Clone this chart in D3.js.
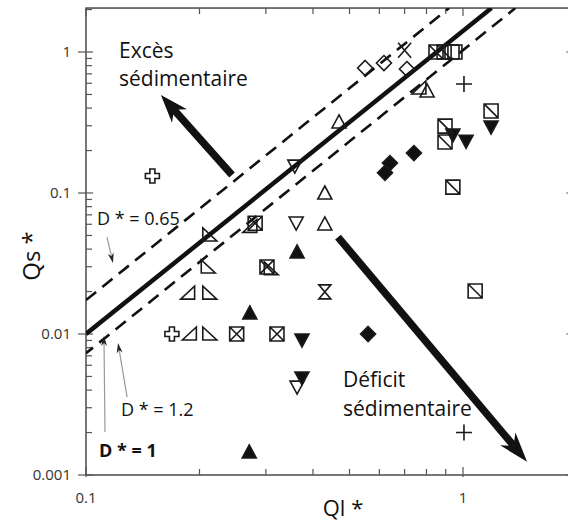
<!DOCTYPE html>
<html><head><meta charset="utf-8">
<script src="https://cdn.jsdelivr.net/npm/d3@7"></script>
<style>body{margin:0;background:#fff} text{font-family:"Open Sans",sans-serif}</style>
</head><body><svg id="c" width="568" height="526"></svg>
<script>
// ---- data ----
const xExtent = [0.1, 1.95];
const yExtent = [0.001, 2.05];
const xMajor = [0.1, 1];
const xLabels = ["0.1", "1"];
const yMajor = [0.001, 0.01, 0.1, 1];
const yLabels = ["0.001", "0.01", "0.1", "1"];
const xMinor = [0.2,0.3,0.4,0.5,0.6,0.7,0.8,0.9];
const yMinor = [0.002,0.003,0.004,0.005,0.006,0.007,0.008,0.009,0.02,0.03,0.04,0.05,0.06,0.07,0.08,0.09,0.2,0.3,0.4,0.5,0.6,0.7,0.8,0.9,2];

// D* reference lines (Ql, Qs)
const lineD1   = [[0.1, 0.01],   [1.19, 2.05]];
const lineD065 = [[0.1, 0.0174], [0.919, 2.05]];
const lineD12  = [[0.1, 0.0073], [1.377, 2.05]];

// observations by marker type (Ql*, Qs*)
const openDiamond   = [[0.55,0.77],[0.617,0.835],[0.71,0.757]];
const xMark         = [[0.70,1.03]];
const plusMark      = [[1.006,0.593],[1.006,0.0020]];
const hollowCross   = [[0.150,0.132],[0.169,0.010]];
const openUp        = [[0.803,0.529],[0.469,0.319],[0.430,0.100],[0.430,0.0603]];
const openDown      = [[0.358,0.155],[0.361,0.0612],[0.363,0.0042]];
const filledUp      = [[0.363,0.0382],[0.272,0.0141],[0.271,0.00146]];
const filledDown    = [[1.187,0.294],[0.94,0.258],[1.019,0.233],[0.374,0.00906],[0.374,0.00488]];
const filledDiamond = [[0.741,0.192],[0.640,0.163],[0.621,0.139],[0.560,0.010]];
const squareDiag    = [[0.848,1.0],[0.891,1.0],[1.187,0.382],[0.896,0.298],[0.896,0.230],[0.94,0.110],[1.077,0.0202]];
const squarePlain   = [[0.935,1.0],[0.952,1.0]];
const squareX       = [[0.281,0.061],[0.302,0.0299],[0.251,0.010],[0.321,0.010]];
const rightTriBR    = [[0.764,0.556],[0.186,0.0195],[0.188,0.010],[0.272,0.058]];
const rightTriBL    = [[0.213,0.0504],[0.211,0.0299],[0.213,0.0195],[0.213,0.010],[0.31,0.029]];
const hourglass     = [[0.430,0.0199]];

// annotation arrows (Ql, Qs): [tail, tip]
const arrowUp    = [[0.244,0.134],[0.158,0.495]];
const arrowDown  = [[0.466,0.0487],[1.479,0.00124]];
const leaderD065 = [[0.1137,0.0487],[0.1179,0.0319]];
const leaderD12  = [[0.1285,0.00357],[0.1216,0.00863]];
const leaderD1   = [[0.1123,0.00202],[0.1116,0.00968]];

// ---- scales ----
const svg = d3.select("#c");
svg.append("rect").attr("width",568).attr("height",526).attr("fill","#fff");
const x = d3.scaleLog().domain([0.1, 1]).range([86, 463]);
const y = d3.scaleLog().domain([0.001, 1]).range([475, 52]);
const X0 = x(xExtent[0]), X1 = x(xExtent[1]), Y0 = y(yExtent[0]), Y1 = y(yExtent[1]);

svg.append("clipPath").attr("id","clip").append("rect")
  .attr("x",X0).attr("y",Y1).attr("width",X1-X0).attr("height",Y0-Y1);

const axisCol = "#555";
svg.append("rect").attr("x",X0).attr("y",Y1).attr("width",X1-X0).attr("height",Y0-Y1)
  .attr("fill","none").attr("stroke",axisCol).attr("stroke-width",1.6);

const tk = svg.append("g").attr("stroke",axisCol).attr("stroke-width",1.2);
xMinor.forEach(v=>{
  tk.append("line").attr("x1",x(v)).attr("x2",x(v)).attr("y1",Y0).attr("y2",Y0-6);
  tk.append("line").attr("x1",x(v)).attr("x2",x(v)).attr("y1",Y1).attr("y2",Y1+6);
});
xMajor.forEach(v=>{
  tk.append("line").attr("x1",x(v)).attr("x2",x(v)).attr("y1",Y0+2).attr("y2",Y0-8);
  tk.append("line").attr("x1",x(v)).attr("x2",x(v)).attr("y1",Y1).attr("y2",Y1+8);
});
yMinor.forEach(v=>{
  if (y(v) < Y1) return;
  tk.append("line").attr("x1",X0).attr("x2",X0+6).attr("y1",y(v)).attr("y2",y(v));
});
yMajor.forEach(v=>{
  tk.append("line").attr("x1",X0-8).attr("x2",X0+7).attr("y1",y(v)).attr("y2",y(v));
  tk.append("line").attr("x1",X1-6).attr("x2",X1).attr("y1",y(v)).attr("y2",y(v));
});

svg.append("g").selectAll("text").data(xMajor).join("text")
  .attr("x",d=>x(d)).attr("y",503).attr("text-anchor","middle")
  .attr("font-size",15).attr("fill","#333").text((d,i)=>xLabels[i]);
svg.append("g").selectAll("text").data(yMajor).join("text")
  .attr("x",71).attr("y",d=>y(d)+5).attr("text-anchor","end")
  .attr("font-size",15).attr("fill","#333").text((d,i)=>yLabels[i]);

svg.append("text").attr("transform","translate(40,256) rotate(-90)").attr("text-anchor","middle")
  .attr("font-size",24).attr("fill","#111").text("Qs *");
svg.append("text").attr("x",343).attr("y",516).attr("text-anchor","middle")
  .attr("font-size",22).attr("fill","#111").text("Ql *");

const lg = d3.line().x(d=>x(d[0])).y(d=>y(d[1]));
const lines = svg.append("g").attr("clip-path","url(#clip)");
lines.append("path").attr("d",lg(lineD065)).attr("fill","none").attr("stroke","#111")
  .attr("stroke-width",2.6).attr("stroke-dasharray","13,8");
lines.append("path").attr("d",lg(lineD12)).attr("fill","none").attr("stroke","#111")
  .attr("stroke-width",2.6).attr("stroke-dasharray","13,8").attr("stroke-dashoffset",4);
lines.append("path").attr("d",lg(lineD1)).attr("fill","none").attr("stroke","#111")
  .attr("stroke-width",4.5);

const shapes = {
  up: "M0,-7L7,6L-7,6Z",
  down: "M-7,-6L7,-6L0,7Z",
  diamond: "M0,-7.5L7.5,0L0,7.5L-7.5,0Z",
  square: "M-7,-7H7V7H-7Z",
  squareDiag: "M-7,-7H7V7H-7ZM-7,-7L7,7",
  squareX: "M-7,-7H7V7H-7ZM-7,-7L7,7M-7,7L7,-7",
  xmark: "M-6.5,-7.5L6.5,7.5M-6.5,7.5L6.5,-7.5",
  plus: "M-8,0H8M0,-8V8",
  cross: "M-2.5,-7H2.5V-2.5H7V2.5H2.5V7H-2.5V2.5H-7V-2.5H-2.5Z",
  triBR: "M7,-7L7,6L-7,6Z",
  triBL: "M-7,-7L-7,6L7,6Z",
  hourglass: "M-6,-7H6L-6,7H6Z"
};
const mg = svg.append("g").attr("stroke","#1a1a1a").attr("stroke-width",1.6).attr("stroke-linejoin","miter");
function draw(data, shape, filled){
  mg.append("g").selectAll("path").data(data).join("path")
    .attr("transform",d=>`translate(${x(d[0])},${y(d[1])})`)
    .attr("d",shapes[shape])
    .attr("fill",filled ? "#111" : "none");
}
draw(openDiamond,"diamond",false);
draw(xMark,"xmark",false);
draw(plusMark,"plus",false);
draw(hollowCross,"cross",false);
draw(openUp,"up",false);
draw(openDown,"down",false);
draw(filledUp,"up",true);
draw(filledDown,"down",true);
draw(filledDiamond,"diamond",true);
draw(squareDiag,"squareDiag",false);
draw(squarePlain,"square",false);
draw(squareX,"squareX",false);
draw(rightTriBR,"triBR",false);
draw(rightTriBL,"triBL",false);
draw(hourglass,"hourglass",false);

function arrow(g, seg, L, W, color, sw, lineColor){
  const p0=[x(seg[0][0]),y(seg[0][1])], p1=[x(seg[1][0]),y(seg[1][1])];
  const dx=p0[0]-p1[0], dy=p0[1]-p1[1], len=Math.hypot(dx,dy);
  const u=[dx/len,dy/len], n=[-u[1],u[0]];
  const base=[p1[0]+u[0]*L*0.7, p1[1]+u[1]*L*0.7];
  g.append("line").attr("x1",p0[0]).attr("y1",p0[1]).attr("x2",base[0]).attr("y2",base[1])
    .attr("stroke",lineColor||color).attr("stroke-width",sw);
  const pts=[p1,
    [p1[0]+u[0]*L+n[0]*W, p1[1]+u[1]*L+n[1]*W],
    base,
    [p1[0]+u[0]*L-n[0]*W, p1[1]+u[1]*L-n[1]*W]];
  g.append("path").attr("d","M"+pts.map(p=>p.join(",")).join("L")+"Z").attr("fill",color);
}
const ag = svg.append("g");
arrow(ag, arrowUp, 28, 10, "#111", 7.5);
arrow(ag, arrowDown, 30, 10, "#111", 7.5);
arrow(ag, leaderD065, 10, 3, "#222", 1.2, "#999");
arrow(ag, leaderD12, 10, 3, "#222", 1.2, "#999");
arrow(ag, leaderD1, 10, 3, "#222", 1.2, "#999");

const tg = svg.append("g").attr("fill","#111");
tg.append("text").attr("x",119).attr("y",58).attr("font-size",21).text("Excès");
tg.append("text").attr("x",119).attr("y",86).attr("font-size",21).text("sédimentaire");
tg.append("text").attr("x",343).attr("y",387).attr("font-size",21).text("Déficit");
tg.append("text").attr("x",343).attr("y",416).attr("font-size",21).text("sédimentaire");
tg.append("text").attr("x",97).attr("y",225).attr("font-size",18).text("D * = 0.65");
tg.append("text").attr("x",121).attr("y",416).attr("font-size",18).text("D * = 1.2");
tg.append("text").attr("x",99).attr("y",457).attr("font-size",18).attr("font-weight","bold").text("D * = 1");
</script></body></html>
